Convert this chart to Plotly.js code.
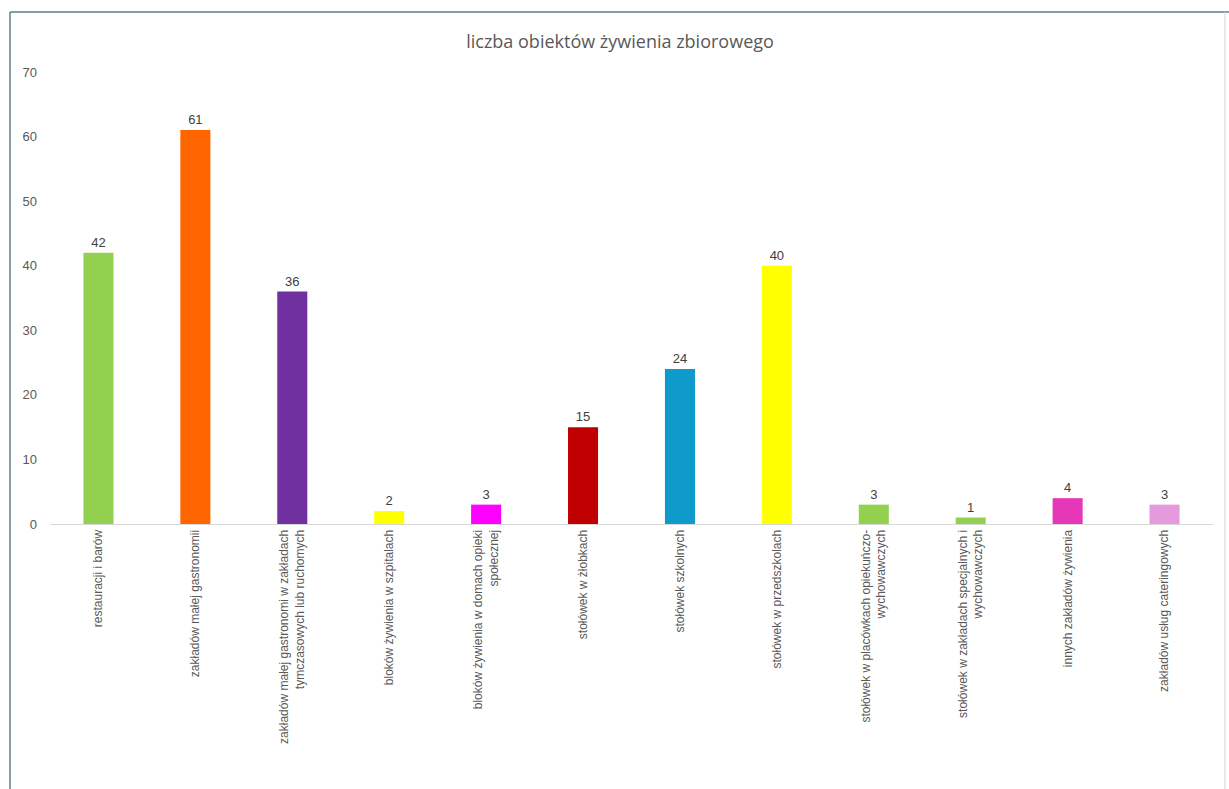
<!DOCTYPE html>
<html>
<head>
<meta charset="utf-8">
<script src="https://cdn.plot.ly/plotly-3.0.1.min.js"></script>
<style>
html,body{margin:0;padding:0;background:#fff;}
#chart{width:1229px;height:789px;}
</style>
</head>
<body>
<div id="chart"></div>
<script>
const categories = [
  "restauracji i barów",
  "zakładów małej gastronomii",
  "zakładów małej gastronomi w zakładach<br>tymczasowych lub ruchomych",
  "bloków żywienia w szpitalach",
  "bloków żywienia w domach opieki<br>społecznej",
  "stołówek w żłobkach",
  "stołówek szkolnych",
  "stołówek w przedszkolach",
  "stołówek w placówkach opiekuńczo-<br>wychowawczych",
  "stołówek w zakładach specjalnych i<br>wychowawczych",
  "innych zakładów żywienia",
  "zakładów usług cateringowych"
];
const values = [42, 61, 36, 2, 3, 15, 24, 40, 3, 1, 4, 3];
const barColors = [
  "#92D050", "#FF6600", "#7030A0", "#FFFF00", "#FF00FF", "#C00000",
  "#0E9BCB", "#FFFF00", "#92D050", "#92D050", "#E637B8", "#E69ADE"
];
const yTicks = [0, 10, 20, 30, 40, 50, 60, 70];
const chartTitle = "liczba obiektów żywienia zbiorowego";

const trace = {
  type: "bar",
  x: categories,
  y: values,
  marker: {color: barColors},
  text: values.map(String),
  textposition: "outside",
  cliponaxis: false,
  textfont: {family: "Liberation Sans, Arial, sans-serif", size: 13, color: "#404040"},
  hoverinfo: "x+y"
};

const layout = {
  width: 1229,
  height: 789,
  margin: {l: 50, r: 16, t: 72, b: 265},
  paper_bgcolor: "#ffffff",
  plot_bgcolor: "#ffffff",
  showlegend: false,
  bargap: 0.69,
  title: {
    text: chartTitle,
    x: 0.5045, xanchor: "center",
    y: 0.947, yanchor: "middle",
    font: {family: "Open Sans, Noto Sans, sans-serif", size: 18, color: "#595959"}
  },
  xaxis: {
    type: "category",
    tickangle: -90,
    showline: true,
    linecolor: "#D9D9D9",
    linewidth: 1,
    showgrid: false,
    zeroline: false,
    ticks: "",
    tickfont: {family: "Liberation Sans, Arial, sans-serif", size: 12, color: "#595959"},
    automargin: false
  },
  yaxis: {
    range: [0, 70],
    tickvals: yTicks,
    ticktext: yTicks.map(String),
    showgrid: false,
    zeroline: false,
    showline: false,
    ticks: "",
    ticklabelstandoff: 12,
    tickfont: {family: "Liberation Sans, Arial, sans-serif", size: 13, color: "#595959"},
    automargin: false
  },
  shapes: [
    {type: "line", xref: "paper", yref: "paper", x0: -0.0344, x1: -0.0344, y0: -0.6, y1: 1.1327,
     line: {color: "#5F7F86", width: 1.5}},
    {type: "line", xref: "paper", yref: "paper", x0: -0.0344, x1: 1.02, y0: 1.1327, y1: 1.1327,
     line: {color: "#5F7F86", width: 1.5}},
    {type: "line", xref: "paper", yref: "paper", x0: 1.0103, x1: 1.0103, y0: -0.6, y1: 1.1327,
     line: {color: "#D0D8DA", width: 1}}
  ]
};

Plotly.newPlot("chart", [trace], layout, {displayModeBar: false, staticPlot: true});
</script>
</body>
</html>
